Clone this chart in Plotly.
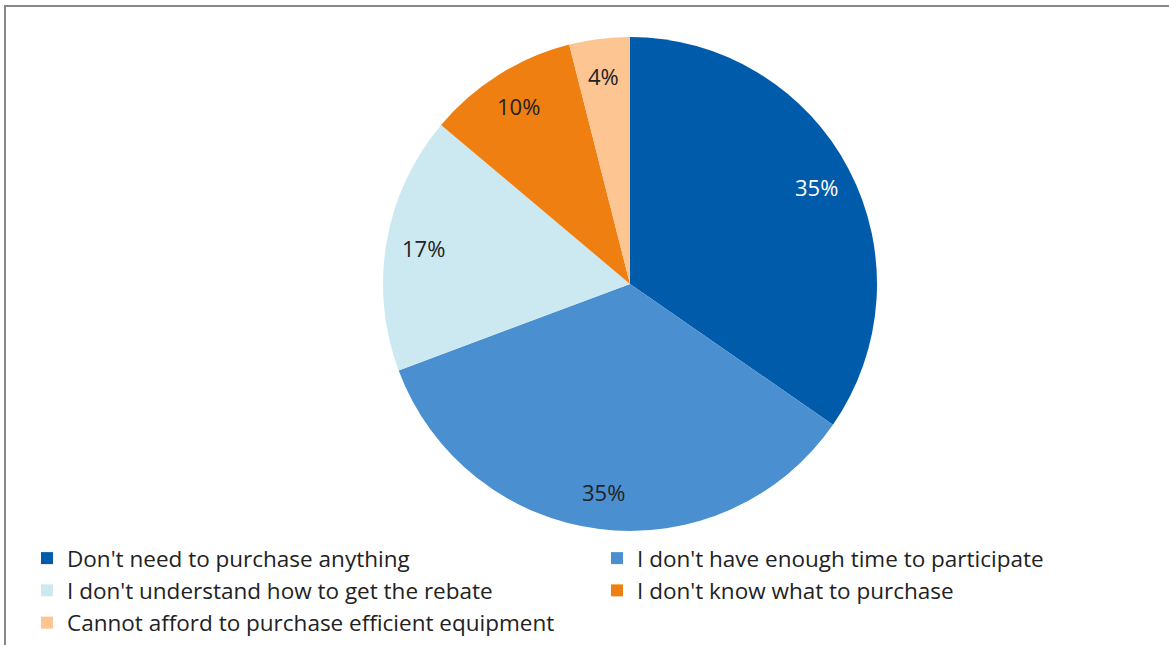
import math
import plotly.graph_objects as go

# Survey responses: reasons for not participating
reasons = [
    "Don't need to purchase anything",
    "I don't have enough time to participate",
    "I don't understand how to get the rebate",
    "I don't know what to purchase",
    "Cannot afford to purchase efficient equipment",
]
shares = [35, 35, 17, 10, 4]
slice_colors = ["#005BAA", "#4A90D0", "#CCE9F1", "#F07F12", "#FCC592"]
label_colors = ["#FFFFFF", "#222222", "#222222", "#222222", "#222222"]

W, H = 1169, 645
FONT = "Open Sans, Calibri, sans-serif"
FS = 22
LEGEND_FS = 22.5

# Pie placement (pixels)
cx, cy, R = 630, 284, 247
label_r = 0.85 * R

fig = go.Figure()
fig.add_trace(go.Pie(
    labels=reasons,
    values=shares,
    sort=False,
    direction="clockwise",
    rotation=0,
    marker=dict(colors=slice_colors, line=dict(width=0)),
    textinfo="none",
    hoverinfo="label+percent",
    domain=dict(x=[(cx - R) / W, (cx + R) / W],
                y=[1 - (cy + R) / H, 1 - (cy - R) / H]),
    showlegend=True,
))

# Percentage labels placed along each slice's bisector
total = sum(shares)
acc = 0.0
annotations = []
for v, c in zip(shares, label_colors):
    mid = (acc + v / 2) / total * 2 * math.pi
    acc += v
    px = cx + label_r * math.sin(mid)
    py = cy - label_r * math.cos(mid)
    annotations.append(dict(
        x=px / W, y=1 - py / H, xref="paper", yref="paper",
        text=f"{round(v / total * 100)}%", showarrow=False,
        font=dict(family=FONT, size=FS, color=c),
        xanchor="center", yanchor="middle",
    ))

# Chart frame lines on the left and top edges
shapes = [
    dict(type="line", xref="paper", yref="paper", x0=5 / W, x1=5 / W,
         y0=0, y1=1 - 5 / H, line=dict(color="#888888", width=2)),
    dict(type="line", xref="paper", yref="paper", x0=4 / W, x1=1,
         y0=1 - 6 / H, y1=1 - 6 / H, line=dict(color="#888888", width=2)),
]

fig.update_layout(
    width=W, height=H,
    margin=dict(l=0, r=0, t=0, b=0, autoexpand=False),
    paper_bgcolor="white",
    plot_bgcolor="white",
    font=dict(family=FONT, size=FS, color="#222222"),
    annotations=annotations,
    shapes=shapes,
    legend=dict(
        orientation="h",
        x=27 / W, y=1 - 537 / H,
        xanchor="left", yanchor="top",
        entrywidth=525, entrywidthmode="pixels",
        bgcolor="rgba(0,0,0,0)",
        font=dict(family=FONT, size=LEGEND_FS, color="#222222"),
        itemclick=False, itemdoubleclick=False,
    ),
)

fig.write_html("out.html")
